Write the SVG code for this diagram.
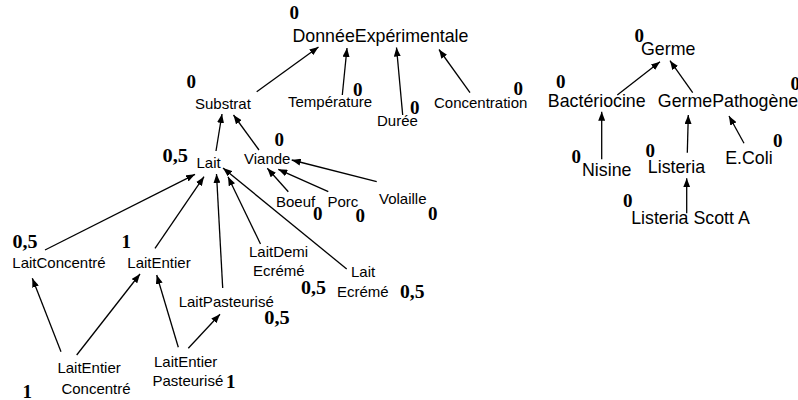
<svg xmlns="http://www.w3.org/2000/svg" width="798" height="400" viewBox="0 0 798 400">
<style>
.l{font-family:"Liberation Sans",Arial,sans-serif;font-size:15px;fill:#000}
.b{font-family:"Liberation Sans",Arial,sans-serif;font-size:17.8px;fill:#000}
.n{font-family:"Liberation Serif","Times New Roman",serif;font-size:19px;font-weight:bold;fill:#000}
.c line{stroke:#000;stroke-width:1.3;marker-end:url(#a)}
</style>
<defs>
<marker id="a" markerUnits="userSpaceOnUse" markerWidth="9" markerHeight="7" refX="9" refY="3.5" orient="auto">
<path d="M0,0 L9,3.5 L0,7 z" fill="#000"/>
</marker>
</defs>
<rect width="798" height="400" fill="#fff"/>
<g class="c" id="connectors">
<line x1="256.7" y1="91.7" x2="318.5" y2="47"/>
<line x1="342.3" y1="95" x2="347" y2="48"/>
<line x1="402.7" y1="115" x2="396.5" y2="47.5"/>
<line x1="470" y1="92.7" x2="439" y2="49.5"/>
<line x1="216" y1="151" x2="222" y2="114"/>
<line x1="259" y1="150" x2="233.5" y2="115"/>
<line x1="45" y1="250" x2="195" y2="174.3"/>
<line x1="155" y1="248.3" x2="204" y2="176.7"/>
<line x1="222.7" y1="288" x2="216.5" y2="174"/>
<line x1="260.5" y1="244" x2="228" y2="176.7"/>
<line x1="346.7" y1="269" x2="223" y2="168"/>
<line x1="288.3" y1="191.7" x2="267.3" y2="168.3"/>
<line x1="328.3" y1="191.7" x2="278.3" y2="169.3"/>
<line x1="376.7" y1="181.7" x2="291.7" y2="160"/>
<line x1="61" y1="351.7" x2="32.3" y2="278.3"/>
<line x1="76.7" y1="355" x2="140" y2="274"/>
<line x1="178.3" y1="347.3" x2="156.7" y2="275"/>
<line x1="188.3" y1="348.3" x2="220" y2="314.3"/>
<line x1="617.3" y1="95" x2="660" y2="61.7"/>
<line x1="692.7" y1="92.7" x2="670" y2="60.7"/>
<line x1="601.7" y1="159.3" x2="601.7" y2="111.7"/>
<line x1="687.3" y1="152.7" x2="688.3" y2="115"/>
<line x1="744" y1="143.3" x2="729" y2="116"/>
<line x1="686.7" y1="213.3" x2="686.7" y2="178.3"/>
</g>
<g id="DonneeExperimentale"><text class="n" x="289.5" y="18.5">0</text><text class="b" x="292.5" y="41.5">DonnéeExpérimentale</text></g>
<g id="Substrat"><text class="n" x="186.5" y="88">0</text><text class="l" x="195" y="108.5">Substrat</text></g>
<g id="Temperature"><text class="n" x="353" y="96">0</text><text class="l" x="288" y="107">Température</text></g>
<g id="Duree"><text class="n" x="410" y="113.5">0</text><text class="l" x="377" y="125.5">Durée</text></g>
<g id="Concentration"><text class="n" x="513.5" y="95">0</text><text class="l" x="434" y="108">Concentration</text></g>
<g id="Lait"><text class="n" x="162.5" y="162" textLength="25.5" lengthAdjust="spacingAndGlyphs">0,5</text><text class="l" x="196.5" y="167.5">Lait</text></g>
<g id="Viande"><text class="n" x="274.5" y="146">0</text><text class="l" x="244" y="164.3">Viande</text></g>
<g id="Boeuf"><text class="n" x="313" y="220">0</text><text class="l" x="276" y="206.7">Boeuf</text></g>
<g id="Porc"><text class="n" x="355.5" y="222">0</text><text class="l" x="327.5" y="207.3">Porc</text></g>
<g id="Volaille"><text class="n" x="428" y="219.5">0</text><text class="l" x="379" y="204">Volaille</text></g>
<g id="LaitConcentre"><text class="n" x="12.5" y="248" textLength="25" lengthAdjust="spacingAndGlyphs">0,5</text><text class="l" x="12.3" y="267.5">LaitConcentré</text></g>
<g id="LaitEntier"><text class="n" x="121.5" y="248">1</text><text class="l" x="127.3" y="267.5">LaitEntier</text></g>
<g id="LaitDemiEcreme"><text class="n" x="301" y="294" textLength="25" lengthAdjust="spacingAndGlyphs">0,5</text><text class="l" x="249" y="256.7">LaitDemi</text><text class="l" x="253" y="275.7">Ecrémé</text></g>
<g id="LaitEcreme"><text class="n" x="400" y="298" textLength="24.5" lengthAdjust="spacingAndGlyphs">0,5</text><text class="l" x="351" y="277.3">Lait</text><text class="l" x="337" y="296.7">Ecrémé</text></g>
<g id="LaitPasteurise"><text class="n" x="264.3" y="324" textLength="25.5" lengthAdjust="spacingAndGlyphs">0,5</text><text class="l" x="178.7" y="306.7">LaitPasteurisé</text></g>
<g id="LaitEntierConcentre"><text class="n" x="22.5" y="397.5">1</text><text class="l" x="57.4" y="373.3">LaitEntier</text><text class="l" x="61.4" y="394">Concentré</text></g>
<g id="LaitEntierPasteurise"><text class="n" x="226" y="388">1</text><text class="l" x="154" y="366.7">LaitEntier</text><text class="l" x="152.4" y="385.7">Pasteurisé</text></g>
<g id="Germe"><text class="n" x="634.5" y="41.5">0</text><text class="b" x="641" y="55">Germe</text></g>
<g id="Bacteriocine"><text class="n" x="556" y="88">0</text><text class="b" x="547.8" y="107.3">Bactériocine</text></g>
<g id="GermePathogene"><text class="n" x="790.5" y="89.5">0</text><text class="b" x="657.8" y="107.3">GermePathogène</text></g>
<g id="Nisine"><text class="n" x="571.5" y="162.5">0</text><text class="b" x="582" y="176">Nisine</text></g>
<g id="Listeria"><text class="n" x="645.5" y="157">0</text><text class="b" x="647.8" y="172.7">Listeria</text></g>
<g id="EColi"><text class="n" x="773" y="146.5">0</text><text class="b" x="725.2" y="164">E.Coli</text></g>
<g id="ListeriaScottA"><text class="n" x="623" y="206.5">0</text><text class="b" x="631.2" y="224">Listeria Scott A</text></g>
</svg>
